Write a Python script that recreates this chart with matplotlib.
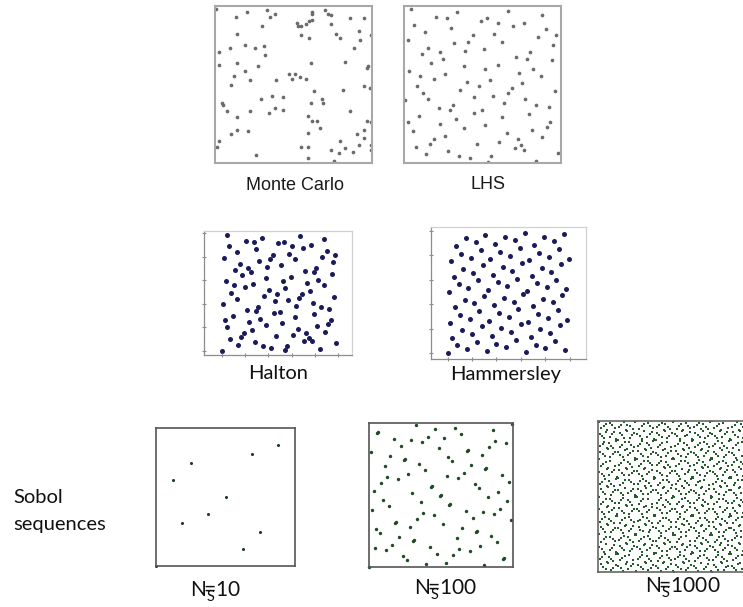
import matplotlib
matplotlib.use("Agg")
import matplotlib.pyplot as plt

plt.rcParams["mathtext.fontset"] = "custom"
plt.rcParams["mathtext.rm"] = "Lato"
plt.rcParams["mathtext.it"] = "Lato:italic"

# ---- data ----
mc_x = [0.00, 0.13, 0.20, 0.33, 0.35, 0.38, 0.62, 0.62, 0.70, 0.72, 0.74, 0.86, 0.95, 0.52, 0.53,
        0.55, 0.58, 0.60, 0.62, 0.30, 0.74, 0.92, 0.14, 0.55, 0.60, 0.77, 0.80, 1.00, 0.93, 0.19,
        0.09, 0.25, 0.31, 0.89, 0.02, 0.32, 0.83, 0.02, 0.14, 0.27, 0.61, 0.98, 0.97, 0.19, 0.12,
        0.47, 0.51, 0.54, 0.49, 0.58, 0.39, 0.22, 0.10, 0.95, 0.99, 0.63, 0.82, 0.04, 0.05, 0.29,
        0.36, 0.43, 0.68, 0.69, 0.61, 0.07, 0.22, 0.34, 0.38, 0.43, 0.86, 0.14, 0.59, 0.62, 0.65,
        0.97, 1.00, 0.67, 0.14, 0.21, 0.10, 0.59, 0.95, 0.91, 0.95, 0.02, 0.80, 0.01, 0.55, 0.59,
        0.92, 1.00, 1.00, 0.83, 0.88, 0.74, 0.79, 0.26, 0.59, 0.76]
mc_y = [0.99, 0.94, 0.97, 0.98, 0.94, 0.96, 0.97, 0.96, 0.98, 0.96, 0.95, 0.93, 0.93, 0.90, 0.88,
        0.88, 0.89, 0.91, 0.92, 0.88, 0.89, 0.85, 0.83, 0.82, 0.80, 0.83, 0.80, 0.82, 0.79, 0.76,
        0.74, 0.74, 0.75, 0.74, 0.71, 0.69, 0.65, 0.63, 0.64, 0.62, 0.64, 0.62, 0.61, 0.59, 0.56,
        0.57, 0.57, 0.55, 0.54, 0.54, 0.53, 0.53, 0.50, 0.49, 0.48, 0.46, 0.47, 0.38, 0.37, 0.41,
        0.43, 0.42, 0.41, 0.38, 0.38, 0.33, 0.33, 0.32, 0.35, 0.34, 0.33, 0.29, 0.30, 0.27, 0.27,
        0.27, 0.26, 0.22, 0.21, 0.20, 0.18, 0.19, 0.21, 0.18, 0.16, 0.14, 0.14, 0.10, 0.10, 0.10,
        0.11, 0.11, 0.08, 0.09, 0.07, 0.08, 0.06, 0.05, 0.03, 0.01]

lhs_x = [0.04, 0.20, 0.27, 0.34, 0.67, 0.89, 0.06, 0.30, 0.49, 0.53, 0.60, 0.70, 0.77, 0.91, 0.13,
         0.58, 0.44, 0.41, 0.32, 0.63, 0.86, 0.98, 0.02, 0.15, 0.23, 0.39, 0.51, 0.96, 0.11, 0.25,
         0.72, 0.79, 0.81, 0.17, 0.95, 0.60, 0.38, 0.03, 0.52, 0.74, 0.83, 0.10, 0.26, 0.19, 0.88,
         0.55, 0.40, 0.08, 0.48, 0.69, 0.76, 0.36, 0.97, 0.67, 0.12, 0.15, 0.45, 0.57, 0.78, 0.00,
         0.31, 0.22, 0.29, 0.45, 0.50, 0.64, 0.85, 0.93, 0.80, 0.09, 0.02, 0.33, 0.63, 0.94, 0.23,
         0.38, 0.52, 0.92, 0.82, 0.05, 0.26, 0.66, 0.89, 0.19, 0.16, 0.47, 0.61, 0.73, 0.75, 0.07,
         0.71, 0.77, 0.28, 0.14, 0.35, 0.42, 0.56, 0.99, 0.54, 0.85]
lhs_y = [0.99, 0.94, 0.93, 0.97, 0.98, 0.95, 0.89, 0.87, 0.91, 0.93, 0.90, 0.88, 0.90, 0.86, 0.84,
         0.83, 0.82, 0.78, 0.77, 0.78, 0.81, 0.82, 0.79, 0.74, 0.71, 0.72, 0.73, 0.76, 0.70, 0.67,
         0.68, 0.67, 0.71, 0.64, 0.66, 0.63, 0.62, 0.59, 0.60, 0.58, 0.60, 0.56, 0.57, 0.54, 0.56,
         0.53, 0.52, 0.49, 0.49, 0.48, 0.51, 0.47, 0.46, 0.45, 0.45, 0.41, 0.42, 0.43, 0.41, 0.40,
         0.37, 0.35, 0.34, 0.32, 0.34, 0.38, 0.37, 0.36, 0.31, 0.30, 0.26, 0.28, 0.29, 0.26, 0.25,
         0.22, 0.24, 0.23, 0.21, 0.20, 0.17, 0.19, 0.16, 0.15, 0.12, 0.12, 0.13, 0.15, 0.11, 0.10,
         0.09, 0.08, 0.07, 0.05, 0.04, 0.03, 0.04, 0.06, 0.00, 0.01]

sobol10_x = [0.0, 0.5, 0.75, 0.25, 0.375, 0.875, 0.625, 0.125, 0.1875, 0.6875]
sobol10_y = [0.0, 0.5, 0.25, 0.75, 0.375, 0.875, 0.125, 0.625, 0.3125, 0.8125]

n_halton = 100
n_hammersley = 100
n_sobol = [100, 1000]

titles = ["Monte Carlo", "LHS", "Halton", "Hammersley"]
sobol_labels = ["10", "100", "1000"]


# ---- the named low-discrepancy point sets ----
def radical_inverse(i, base):
    f, r = 1.0, 0.0
    while i > 0:
        f /= base
        r += f * (i % base)
        i //= base
    return r


def sobol2d(n, bits=30):
    v1 = [1 << (bits - k) for k in range(1, bits + 1)]
    m = [1]
    for k in range(1, bits):
        m.append(m[-1] ^ (m[-1] << 1))
    v2 = [m[k] << (bits - k - 1) for k in range(bits)]
    xs, ys = [], []
    for i in range(n):
        g = i ^ (i >> 1)
        a = b = 0
        k = 0
        while g:
            if g & 1:
                a ^= v1[k]
                b ^= v2[k]
            g >>= 1
            k += 1
        xs.append(a / 2.0 ** bits)
        ys.append(b / 2.0 ** bits)
    return xs, ys


halton_x = [radical_inverse(i, 2) for i in range(n_halton)]
halton_y = [radical_inverse(i, 3) for i in range(n_halton)]
hamm_x = [i / n_hammersley for i in range(n_hammersley)]
hamm_y = [radical_inverse(i, 2) for i in range(n_hammersley)]
sob100_x, sob100_y = sobol2d(n_sobol[0])
sob1000_x, sob1000_y = sobol2d(n_sobol[1])

W, H = 743, 607
fig = plt.figure(figsize=(W / 100, H / 100), dpi=100)


def px_axes(l, t, r, b):
    return fig.add_axes([l / W, 1 - b / H, (r - l) / W, (b - t) / H])


def ftext(x, y, s, **kw):
    fig.text(x / W, 1 - y / H, s, **kw)


def frame(ax, color, lw):
    ax.set_xticks([])
    ax.set_yticks([])
    for sp in ax.spines.values():
        sp.set_color(color)
        sp.set_linewidth(lw)


# Monte Carlo and LHS
ax = px_axes(215, 6, 372, 163)
ax.scatter(mc_x, mc_y, s=7, color="#6a6a6a", linewidths=0)
ax.set_xlim(-0.004, 1.004)
ax.set_ylim(-0.004, 1.009)
frame(ax, "#a8a8a8", 1.5)

ax = px_axes(404, 6, 561, 163)
ax.scatter(lhs_x, lhs_y, s=7, color="#6a6a6a", linewidths=0)
ax.set_xlim(-0.005, 1.01)
ax.set_ylim(-0.005, 1.01)
frame(ax, "#a8a8a8", 1.5)

ftext(295, 190, titles[0], family="Liberation Sans", fontsize=13, ha="center", va="baseline", color="#1a1a1a")
ftext(488, 189, titles[1], family="Liberation Sans", fontsize=13, ha="center", va="baseline", color="#1a1a1a")


# Halton and Hammersley (Excel-like axes)
def excel_axes(ax):
    ax.set_xticks([0, 0.2, 0.4, 0.6, 0.8, 1.0])
    ax.set_yticks([0, 0.2, 0.4, 0.6, 0.8, 1.0])
    ax.tick_params(labelbottom=False, labelleft=False, length=3, width=0.8,
                   color="#8c8c8c", direction="inout")
    ax.spines["top"].set_color("#d0d0d0")
    ax.spines["right"].set_color("#d0d0d0")
    ax.spines["left"].set_color("#8c8c8c")
    ax.spines["bottom"].set_color("#8c8c8c")
    for sp in ax.spines.values():
        sp.set_linewidth(0.9)


ax = px_axes(204, 231, 352, 355)
ax.scatter(halton_x, halton_y, s=13, color="#1b1b5c", linewidths=0)
ax.set_xlim(-0.155, 1.12)
ax.set_ylim(-0.037, 1.02)
excel_axes(ax)

ax = px_axes(431, 227, 586, 359)
ax.scatter(hamm_x, hamm_y, s=13, color="#1b1b5c", linewidths=0)
ax.set_xlim(-0.135, 1.133)
ax.set_ylim(-0.048, 1.031)
excel_axes(ax)

ftext(278, 379, titles[2], family="Lato", fontsize=14.5, ha="center", va="baseline", color="#111111")
ftext(506, 380, titles[3], family="Lato", fontsize=14.5, ha="center", va="baseline", color="#111111")

# Sobol sequences
ax = px_axes(156, 428, 295, 566)
ax.scatter(sobol10_x, sobol10_y, s=5, color="#1f3d22", linewidths=0, clip_on=False)
ax.set_xlim(0, 1)
ax.set_ylim(0, 1)
frame(ax, "#555555", 1.2)

ax = px_axes(369, 423, 513, 567)
ax.scatter(sob100_x, sob100_y, s=6, color="#1e4a24", linewidths=0, clip_on=False)
ax.set_xlim(0, 1)
ax.set_ylim(0, 1)
frame(ax, "#555555", 1.2)

ax = px_axes(598, 421, 749, 572)
ax.scatter(sob1000_x, sob1000_y, s=4.5, marker="s", color="#285c2e", linewidths=0)
ax.set_xlim(0, 1)
ax.set_ylim(0, 1)
frame(ax, "#666666", 1.2)

ftext(13, 503, "Sobol", family="Lato", fontsize=14.5, ha="left", va="baseline", color="#111111")
ftext(13, 530, "sequences", family="Lato", fontsize=14.5, ha="left", va="baseline", color="#111111")

# subscript S tucked under the "=" as in the reference
for x0, base, lab in zip([190, 414, 645], [597, 594, 592], sobol_labels):
    ftext(x0, base, r"$\mathrm{N}^{\,}_{\mathrm{S}}\!\!\!\!$=" + lab, family="Lato", fontsize=15,
          ha="left", va="baseline", color="#111111")

fig.savefig("out.png", dpi=100)
